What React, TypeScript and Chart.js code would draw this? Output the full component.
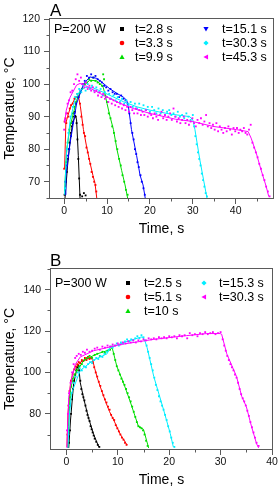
import React, { useEffect, useRef } from 'react';
import { Chart, registerables } from 'chart.js';
Chart.register(...registerables);

type P = [number, number];

const FONT = "'Liberation Sans', Arial, Helvetica, sans-serif";

// ---------------- Panel A (P=200 W) ----------------
const aTitle = 'A';
const aPower = 'P=200 W';
const aLabels = ['t=2.8 s', 't=3.3 s', 't=9.9 s', 't=15.1 s', 't=30.3 s', 't=45.3 s'];
const aXTicks = [0, 10, 20, 30, 40];
const aXMinor = [5, 15, 25, 35, 45];
const aYTicks = [70, 80, 90, 100, 110, 120];
const aYMinor = [65, 75, 85, 95, 105, 115];

const a28Line: P[] = [[0.2,65],[0.8,75],[1.5,84],[2.0,88],[2.6,90.5],[2.9,89],[3.3,78],[3.7,65]];
const a28Pts: P[] = [[0.1,66],[0.4,70],[0.6,73],[0.9,77],[1.1,80],[1.3,82],[1.6,85],[1.8,87],[2.1,88.5],[2.3,90],[2.5,91.5],[2.7,90],[2.9,88],[3.1,83],[3.3,77],[3.5,71],[3.7,66],[4.2,65.5],[4.6,66.5],[5.0,65.8]];

const a33Line: P[] = [[0.1,74],[0.4,88],[0.8,90],[1.5,93],[2.5,95.5],[3.3,96.5],[3.8,93],[4.5,86],[5.2,81],[6.0,76],[6.7,72],[7.2,69.5],[7.6,65]];
const a33Pts: P[] = [[0.0,74],[0.1,88.5],[0.3,89.5],[0.5,88],[0.7,91],[1.0,90],[1.3,92.5],[1.6,93.5],[2.0,94],[2.4,95.5],[2.8,96],[3.1,97],[3.4,96],[3.7,94],[4.0,90],[4.3,87.5],[4.6,85],[4.9,84],[5.2,80.5],[5.5,79],[5.8,77],[6.1,75.5],[6.4,73],[6.7,71.5],[7.0,70],[7.3,69],[7.5,67]];

const a99Line: P[] = [[0.1,67],[0.6,80],[1.4,87],[2.9,95],[4.5,99.5],[6.0,101.2],[7.5,101],[8.5,100],[9.1,99],[9.5,97],[10.0,94],[10.7,90],[11.5,86],[12.3,80],[13.4,73.5],[14.2,69],[14.8,65]];
const a99Pts: P[] = [[0.2,68],[0.5,76],[0.8,82],[1.2,86],[1.6,88],[2.0,91],[2.4,93],[2.8,94.5],[3.2,96],[3.7,97.5],[4.2,98.5],[4.8,100],[5.3,100.5],[5.8,101.5],[6.3,101],[6.8,102],[7.3,101],[7.8,100.5],[8.3,100],[8.8,99.5],[9.1,103],[9.3,101.5],[9.6,96.5],[10.0,94.5],[10.4,91],[10.8,89.5],[11.2,87],[11.6,85],[12.0,82.5],[12.4,80],[12.8,77],[13.2,75],[13.6,72],[14.0,70],[14.4,67.5],[14.8,66]];

const a151Line: P[] = [[0.2,66],[0.4,72],[1.4,82],[2.9,94],[4.5,100],[6.0,102.2],[7.5,101.8],[8.4,101],[10.7,98.5],[12.5,97],[13.8,96],[14.6,95],[15.0,93],[15.7,86],[16.9,78],[17.7,72],[18.4,69],[18.9,65]];
const a151Pts: P[] = [[0.3,70],[0.6,75],[0.9,78],[1.2,80],[1.6,84],[2.0,88],[2.4,91],[2.8,94],[3.3,96],[3.8,98],[4.3,100],[4.8,101],[5.3,102.5],[5.8,102],[6.3,103],[6.8,102],[7.3,102.5],[7.8,101.5],[8.3,101],[8.8,100.5],[9.3,99.5],[9.8,99],[10.3,98],[10.8,98.5],[11.3,97.5],[11.8,97],[12.3,97],[12.8,96],[13.3,96.5],[13.8,95.5],[14.3,95],[14.8,94],[15.2,91],[15.5,88],[15.9,85],[16.2,83],[16.5,80],[16.8,78.5],[17.1,76],[17.4,74.5],[17.8,72],[18.1,70],[18.5,68],[18.8,66]];

const a303Line: P[] = [[0.1,66],[0.5,78],[1.4,89],[2.5,95],[3.7,98],[5.0,99],[6.5,99],[9.1,97.5],[13.8,94.6],[17,93],[20,92],[24.7,90.8],[29.3,90],[30.0,89],[30.5,86],[31.6,77],[32.8,68.5],[33.3,65]];
const a303Pts: P[] = [[0.2,68],[0.6,80],[1.0,85],[1.5,90],[2.0,93],[2.5,96],[3.0,97],[3.5,98.5],[4.0,97.5],[4.5,99.5],[5.0,98],[5.5,100],[6.0,98.5],[6.5,99.5],[7.0,98],[7.5,99],[8.0,97.5],[8.5,98.5],[9.0,96.5],[9.5,97.5],[10.0,96],[10.5,97],[11.0,95.5],[11.5,96.5],[12.0,95],[12.5,96],[13.0,94.5],[13.5,95.5],[14.0,94],[14.5,95],[15.0,93.5],[15.5,94.5],[16.0,93],[16.5,94],[17.0,92.5],[17.5,94],[18.0,92],[18.5,93.5],[19.0,92],[19.5,93],[20.0,91.5],[20.5,93],[21.0,92],[21.5,91],[22.0,92.5],[22.5,91],[23.0,92],[23.5,90.5],[24.0,91.5],[24.5,92],[25.0,90.5],[25.5,91],[26.0,90],[26.5,91.5],[27.0,90],[27.5,90.5],[28.0,89.5],[28.5,91],[29.0,90],[29.5,89],[30.0,90.5],[30.3,87],[30.6,84],[30.9,81.5],[31.2,79],[31.5,77],[31.8,75],[32.1,72.5],[32.4,70.5],[32.7,68.5],[33.0,66.5],[33.3,65.5]];

const a453Line: P[] = [[0.1,88],[0.5,92],[1.4,96],[2.9,99.7],[3.7,100.2],[5,99.5],[8.4,97.1],[12.3,94.5],[16.1,92.5],[20,91],[22.3,90.3],[26,89.2],[30,88.5],[34.7,87],[40.2,86],[42.9,85.4],[43.6,83.4],[44.8,78.8],[45.9,73.7],[47.1,68.6],[47.7,65.5]];
const a453Pts: P[] = [[0.0,86],[0.2,89],[0.5,91],[0.8,94],[1.1,95],[1.5,97.5],[1.9,98],[2.3,100],[2.7,101.5],[3.1,103],[3.5,101],[3.9,102],[4.3,100],[4.7,99],[5.1,100.5],[5.5,98.5],[5.9,99.5],[6.3,98],[6.7,99],[7.1,97.5],[7.5,98],[7.9,96.5],[8.3,97.5],[8.7,96],[9.1,97],[9.5,95.5],[9.9,96],[10.3,94.5],[10.7,95.5],[11.1,94],[11.5,95],[11.9,93.5],[12.3,94.5],[12.7,93],[13.1,94],[13.5,92.5],[13.9,93.5],[14.3,92],[14.7,93],[15.1,91.5],[15.5,93],[15.9,92],[16.3,91],[16.7,92.5],[17.1,91],[17.5,92],[17.9,90.5],[18.3,91.5],[18.7,90.5],[19.1,92],[19.5,90],[19.9,91],[20.3,90.5],[20.7,89.5],[21.1,91],[21.5,90],[21.9,89],[22.3,90.5],[22.7,91.5],[23.1,89.5],[23.5,90.5],[23.9,89],[24.3,90],[24.7,91],[25.1,89],[25.5,92.5],[25.9,90],[26.3,88.5],[26.7,89.5],[27.1,88],[27.5,89],[27.9,90],[28.3,88],[28.7,89],[29.1,87.5],[29.5,88.5],[29.9,89.5],[30.3,88],[30.7,87],[31.1,89],[31.5,88],[31.9,89.5],[32.3,87.5],[32.7,88.5],[33.1,90.5],[33.5,87],[33.9,88],[34.3,86.5],[34.7,87.5],[35.1,86],[35.5,88],[35.9,85.5],[36.3,87],[36.7,86],[37.1,85],[37.5,86.5],[37.9,85.5],[38.3,87],[38.7,86],[39.1,84.5],[39.5,86.5],[39.9,85.5],[40.3,86.5],[40.7,85],[41.1,86],[41.5,85.5],[41.9,86.5],[42.3,85],[42.7,84.5],[43.1,86],[43.5,87.5],[43.9,82],[44.3,80.5],[44.7,79],[45.1,77.5],[45.5,75.5],[45.9,74],[46.3,72],[46.7,70.5],[47.1,68.5],[47.5,67],[47.9,65.5]];

// ---------------- Panel B (P=300 W) ----------------
const bTitle = 'B';
const bPower = 'P=300 W';
const bLabels = ['t=2.5 s', 't=5.1 s', 't=10 s', 't=15.3 s', 't=30.3 s'];
const bXTicks = [0, 10, 20, 30, 40];
const bXMinor = [5, 15, 25, 35];
const bYTicks = [80, 100, 120, 140];
const bYMinor = [70, 90, 110, 130, 150];

const b25Line: P[] = [[0.45,63.5],[0.8,77],[1.4,94.5],[2.1,102.5],[2.4,103],[2.7,95],[3.4,87],[4.3,78],[5.3,70],[6.3,64]];
const b25Pts: P[] = [[0.5,66],[0.7,72],[0.9,80],[1.1,87],[1.3,92],[1.5,96],[1.7,99],[1.9,101],[2.1,102.5],[2.3,103.5],[2.5,101],[2.7,96],[2.9,92],[3.1,89.5],[3.3,88],[3.5,86.5],[3.7,84],[3.9,81.5],[4.1,79.5],[4.3,78],[4.5,76.5],[4.7,74],[4.9,72.5],[5.1,71],[5.3,69.5],[5.5,68],[5.8,66.5],[6.1,65],[6.4,64]];

const b51Line: P[] = [[0.1,64],[0.3,80],[0.8,95],[1.4,101],[2.7,105],[4.0,106.5],[4.7,107],[5.1,106],[5.5,102],[6.0,97.5],[6.6,93],[7.6,86],[8.4,81],[9.2,77],[10.5,70],[11.8,65]];
const b51Pts: P[] = [[0.2,70],[0.4,84],[0.6,91],[0.9,96],[1.2,99],[1.5,101.5],[1.8,103],[2.1,104],[2.4,105],[2.7,104.5],[3.0,106],[3.3,105.5],[3.6,107],[3.9,106],[4.2,107.5],[4.5,106.5],[4.8,107],[5.1,105],[5.4,102.5],[5.7,100],[6.0,98],[6.3,95.5],[6.6,93.5],[6.9,91],[7.2,89],[7.5,87],[7.8,85.5],[8.1,83.5],[8.4,82],[8.7,79.5],[9.0,78],[9.3,77],[9.6,74.5],[9.9,73],[10.2,71.5],[10.5,70],[10.8,68.5],[11.1,67.5],[11.4,66],[11.7,65]];

const b10Line: P[] = [[0.25,63.5],[0.4,74],[0.8,92],[1.4,98],[3.4,106],[6.0,109],[8.5,111],[8.9,112],[9.8,103],[11.1,95],[12.4,86],[14.0,74],[15.0,72.5],[16.0,63.5]];
const b10Pts: P[] = [[0.3,70],[0.5,82],[0.7,88],[0.9,93],[1.2,97],[1.6,99],[2.0,101],[2.5,103],[3.0,104],[3.5,106],[4.0,107],[4.5,108],[5.0,107],[5.5,108.5],[6.0,109],[6.5,108],[7.0,110],[7.5,109.5],[8.0,110.5],[8.5,111],[8.9,112.5],[9.2,109],[9.5,106],[9.8,103],[10.1,101],[10.4,99],[10.7,97],[11.0,95.5],[11.3,94],[11.6,92],[11.9,90],[12.2,88],[12.5,86],[12.8,83.5],[13.1,81],[13.4,78.5],[13.7,76],[14.0,74],[14.3,73.5],[14.6,73],[14.9,72],[15.2,70],[15.5,67],[15.8,64.5]];

const b153Line: P[] = [[0.3,63.5],[0.6,80],[1.0,90],[2.7,101],[5.3,106],[7.9,109],[8.5,112],[11.8,115],[14.4,117],[14.8,117.2],[15.3,115],[15.7,112],[17,98],[18.9,82],[20.2,70.5],[20.8,64]];
const b153Pts: P[] = [[0.4,70],[0.7,84],[1.0,90],[1.4,95],[1.8,98],[2.2,100],[2.6,102],[3.0,101],[3.4,103],[3.8,102.5],[4.2,104],[4.6,105],[5.0,104.5],[5.4,106],[5.8,107],[6.2,106.5],[6.6,108],[7.0,107.5],[7.4,109],[7.8,110],[8.2,111],[8.6,112.5],[9.0,112],[9.4,113],[9.8,114],[10.2,113],[10.6,114.5],[11.0,114],[11.4,115],[11.8,116],[12.2,115],[12.6,116],[13.0,115.5],[13.4,116.5],[13.8,117.5],[14.2,116.5],[14.6,118],[15.0,117],[15.3,115.5],[15.6,113],[15.9,110],[16.2,107],[16.5,104],[16.8,101],[17.1,97.5],[17.4,94],[17.7,91.5],[18.0,88.5],[18.3,86],[18.6,84],[18.9,82],[19.2,79.5],[19.5,77],[19.8,74],[20.1,71.5],[20.4,68.5],[20.7,66],[21.0,64]];

const b303Line: P[] = [[0.1,63.5],[0.2,72],[0.45,88],[1.0,97],[1.75,104],[2.7,107.5],[5.3,110.5],[10.5,113.5],[17,116],[23.4,117.8],[27.3,118.8],[29.9,118.8],[30.2,118.5],[31.2,109],[33.1,98],[34.1,88.5],[35,83.5],[36,74],[37,65.5],[37.4,63.5]];
const b303Pts: P[] = [[0.1,72],[0.3,80],[0.5,90],[0.8,95],[1.1,100],[1.4,104],[1.7,107],[2.0,108],[2.4,109],[2.8,108.5],[3.2,110],[3.6,109.5],[4.0,111],[4.5,110],[5.0,110.5],[5.5,111.5],[6.0,112],[6.5,111],[7.0,112.5],[7.5,112],[8.0,113],[8.5,112.5],[9.0,113.5],[9.5,113],[10.0,114],[10.5,113.5],[11.0,114.5],[11.5,114],[12.0,115],[12.5,114.5],[13.0,115.5],[13.5,114.5],[14.0,115.5],[14.5,115],[15.0,116],[15.5,115.5],[16.0,116.5],[16.5,116],[17.0,116.5],[17.5,116],[18.0,117],[18.5,116.5],[19.0,117],[19.5,116.5],[20.0,117.5],[20.5,117],[21.0,117.5],[21.5,116.5],[22.0,118],[22.5,117.5],[23.0,118],[23.5,116.5],[24.0,119],[24.5,118],[25.0,118.5],[25.5,117.5],[26.0,119],[26.5,118.5],[27.0,119.5],[27.5,118.5],[28.0,119],[28.5,119.5],[29.0,118.5],[29.5,119],[30.0,119.5],[30.4,116],[30.7,113],[31.0,110.5],[31.3,108],[31.6,106],[31.9,104],[32.2,102.5],[32.5,101],[32.8,99],[33.1,97.5],[33.4,95],[33.7,92],[34.0,89.5],[34.3,87.5],[34.6,86],[34.9,84],[35.2,81.5],[35.5,79],[35.8,76],[36.1,73.5],[36.4,71],[36.7,68.5],[37.0,66],[37.4,64.5]];

// ---------------- styling ----------------
type Mk = 'rect' | 'circle' | 'up' | 'down' | 'diamond' | 'left';
interface Series { label: string; color: string; marker: Mk; line: P[]; pts: P[]; }
interface Spec {
  height: number; title: string; power: string; series: Series[];
  xMin: number; xMax: number; yMin: number; yMax: number;
  xTicks: number[]; xMinor: number[]; yTicks: number[]; yMinor: number[];
  pad: { top: number; right: number }; yWidth: number; xHeight: number; xTitlePad: number;
  titleBase: number; rows: number[]; col1: [number, number]; col2: [number, number]; powerX: number;
}

const C = { black: '#000000', red: '#ff0000', green: '#00dd00', blue: '#0000ff', cyan: '#00eeff', magenta: '#ff00ff' };

const specA: Spec = {
  height: 244, title: aTitle, power: aPower,
  series: [
    { label: aLabels[0], color: C.black, marker: 'rect', line: a28Line, pts: a28Pts },
    { label: aLabels[1], color: C.red, marker: 'circle', line: a33Line, pts: a33Pts },
    { label: aLabels[2], color: C.green, marker: 'up', line: a99Line, pts: a99Pts },
    { label: aLabels[3], color: C.blue, marker: 'down', line: a151Line, pts: a151Pts },
    { label: aLabels[4], color: C.cyan, marker: 'diamond', line: a303Line, pts: a303Pts },
    { label: aLabels[5], color: C.magenta, marker: 'left', line: a453Line, pts: a453Pts },
  ],
  xMin: -3.3, xMax: 48.7, yMin: 65, yMax: 120,
  xTicks: aXTicks, xMinor: aXMinor, yTicks: aYTicks, yMinor: aYMinor,
  pad: { top: 19, right: 7 }, yWidth: 50, xHeight: 46, xTitlePad: 6,
  titleBase: 15.5, rows: [29, 43, 57], col1: [122, 135], col2: [206, 222], powerX: 54,
};

const specB: Spec = {
  height: 245, title: bTitle, power: bPower,
  series: [
    { label: bLabels[0], color: C.black, marker: 'rect', line: b25Line, pts: b25Pts },
    { label: bLabels[1], color: C.red, marker: 'circle', line: b51Line, pts: b51Pts },
    { label: bLabels[2], color: C.green, marker: 'up', line: b10Line, pts: b10Pts },
    { label: bLabels[3], color: C.cyan, marker: 'diamond', line: b153Line, pts: b153Pts },
    { label: bLabels[4], color: C.magenta, marker: 'left', line: b303Line, pts: b303Pts },
  ],
  xMin: -3, xMax: 40, yMin: 63, yMax: 150,
  xTicks: bXTicks, xMinor: bXMinor, yTicks: bYTicks, yMinor: bYMinor,
  pad: { top: 25, right: 8 }, yWidth: 51, xHeight: 40, xTitlePad: 0.6,
  titleBase: 21.5, rows: [39, 53, 67], col1: [128, 144], col2: [204, 219], powerX: 55,
};

const AXIS = '#5a5a5a';

function drawMarker(ctx: CanvasRenderingContext2D, mk: Mk, x: number, y: number, color: string) {
  ctx.save();
  ctx.fillStyle = color;
  ctx.beginPath();
  const r = 2.6;
  switch (mk) {
    case 'rect': ctx.rect(x - 2, y - 2, 4, 4); break;
    case 'circle': ctx.arc(x, y, 2.3, 0, Math.PI * 2); break;
    case 'up': ctx.moveTo(x, y - r); ctx.lineTo(x + r, y + r * 0.8); ctx.lineTo(x - r, y + r * 0.8); break;
    case 'down': ctx.moveTo(x, y + r); ctx.lineTo(x + r, y - r * 0.8); ctx.lineTo(x - r, y - r * 0.8); break;
    case 'diamond': ctx.moveTo(x, y - r); ctx.lineTo(x + r, y); ctx.lineTo(x, y + r); ctx.lineTo(x - r, y); break;
    case 'left': ctx.moveTo(x - r, y); ctx.lineTo(x + r * 0.8, y - r); ctx.lineTo(x + r * 0.8, y + r); break;
  }
  ctx.closePath();
  ctx.fill();
  ctx.restore();
}

function makeConfig(s: Spec): any {
  const datasets: any[] = [];
  s.series.forEach((ser, i) => {
    datasets.push({
      label: ser.label + ' fit', data: ser.line.map(([x, y]) => ({ x, y })),
      showLine: true, borderColor: ser.color, borderWidth: 1, pointRadius: 0, fill: false,
      order: 100 - i * 2,
    });
    datasets.push({
      label: ser.label, data: ser.pts.map(([x, y]) => ({ x, y })),
      showLine: false, pointStyle: 'rect', pointRadius: 1.3, borderWidth: 0,
      backgroundColor: ser.color, borderColor: ser.color,
      order: 99 - i * 2,
    });
  });

  const overlay = {
    id: 'overlay',
    afterDraw(chart: any) {
      const { ctx, chartArea: a, scales } = chart;
      ctx.save();
      // frame
      ctx.strokeStyle = AXIS;
      ctx.lineWidth = 1;
      ctx.strokeRect(a.left - 0.5, a.top - 0.5, a.right - a.left + 1, a.bottom - a.top + 1);
      // minor ticks
      ctx.beginPath();
      s.xMinor.forEach((v) => {
        const px = Math.round(scales.x.getPixelForValue(v)) + 0.5;
        ctx.moveTo(px, a.bottom); ctx.lineTo(px, a.bottom + 3.5);
      });
      s.yMinor.forEach((v) => {
        if (v < s.yMin || v > s.yMax) return;
        const py = Math.round(scales.y.getPixelForValue(v)) + 0.5;
        ctx.moveTo(a.left, py); ctx.lineTo(a.left - 3.5, py);
      });
      ctx.stroke();
      // panel letter
      ctx.fillStyle = '#000';
      ctx.font = `17px ${FONT}`;
      ctx.textBaseline = 'alphabetic';
      ctx.textAlign = 'left';
      ctx.fillText(s.title, 50, s.titleBase);
      // legend
      ctx.font = `12.5px ${FONT}`;
      ctx.textBaseline = 'middle';
      ctx.fillText(s.power, s.powerX, s.rows[0] + 0.5);
      s.series.forEach((ser, i) => {
        const col = i < 3 ? s.col1 : s.col2;
        const row = s.rows[i % 3];
        drawMarker(ctx, ser.marker, col[0], row, ser.color);
        ctx.fillStyle = '#000';
        ctx.fillText(ser.label, col[1], row + 0.5);
      });
      ctx.restore();
    },
  };

  return {
    type: 'scatter',
    data: { datasets },
    plugins: [overlay],
    options: {
      responsive: false,
      animation: false,
      events: [],
      layout: { padding: { top: s.pad.top, right: s.pad.right, left: 0, bottom: 0 } },
      plugins: { legend: { display: false }, tooltip: { enabled: false }, title: { display: false } },
      scales: {
        x: {
          type: 'linear', min: s.xMin, max: s.xMax,
          afterBuildTicks: (sc: any) => { sc.ticks = s.xTicks.map((v) => ({ value: v })); },
          afterFit: (sc: any) => { sc.height = s.xHeight; },
          ticks: { color: '#111', font: { size: 10.5, family: FONT }, padding: 1, maxRotation: 0, autoSkip: false },
          grid: { drawOnChartArea: false, drawTicks: true, tickLength: 6, color: AXIS, tickColor: AXIS },
          border: { display: false },
          title: { display: true, text: 'Time, s', color: '#000', font: { size: 14, family: FONT }, padding: { top: 0, bottom: s.xTitlePad } },
        },
        y: {
          type: 'linear', min: s.yMin, max: s.yMax,
          afterBuildTicks: (sc: any) => { sc.ticks = s.yTicks.map((v) => ({ value: v })); },
          afterFit: (sc: any) => { sc.width = s.yWidth; },
          ticks: { color: '#111', font: { size: 10.5, family: FONT }, padding: 4, autoSkip: false },
          grid: { drawOnChartArea: false, drawTicks: true, tickLength: 6, color: AXIS, tickColor: AXIS },
          border: { display: false },
          title: { display: true, text: 'Temperature, °C', color: '#000', font: { size: 14, family: FONT }, padding: { top: 2, bottom: 0 } },
        },
      },
    },
  };
}

function Panel({ spec }: { spec: Spec }) {
  const ref = useRef<HTMLCanvasElement>(null);
  useEffect(() => {
    const chart = new Chart(ref.current as HTMLCanvasElement, makeConfig(spec));
    return () => chart.destroy();
  }, [spec]);
  return <canvas ref={ref} width={280} height={spec.height} style={{ display: 'block', width: 280, height: spec.height }} />;
}

export default function App() {
  return (
    <div style={{ position: 'absolute', left: 0, top: 0, width: 280, height: 489, background: '#fff' }}>
      <Panel spec={specA} />
      <Panel spec={specB} />
    </div>
  );
}
